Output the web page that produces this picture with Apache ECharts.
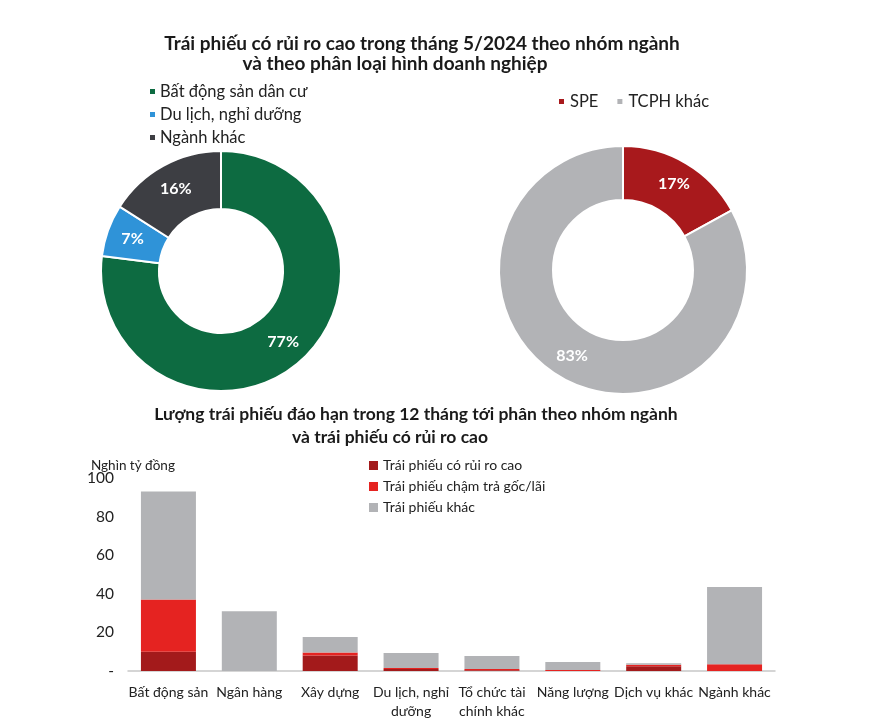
<!DOCTYPE html>
<html><head><meta charset="utf-8">
<script src="https://cdn.jsdelivr.net/npm/echarts@6/dist/echarts.min.js"></script>
<style>html,body{margin:0;padding:0;background:#fff}#c{width:883px;height:725px}</style>
</head><body><div id="c"></div>
<script>
const FONT = 'Lato';
const sectorNames = ['Bất động sản dân cư', 'Du lịch, nghỉ dưỡng', 'Ngành khác'];
const sectorValues = [77, 7, 16];
const issuerNames = ['SPE', 'TCPH khác'];
const issuerValues = [17, 83];
const categories = ['Bất động sản', 'Ngân hàng', 'Xây dựng', 'Du lịch, nghỉ\ndưỡng', 'Tổ chức tài\nchính khác', 'Năng lượng', 'Dịch vụ khác', 'Ngành khác'];
const seriesNames = ['Trái phiếu có rủi ro cao', 'Trái phiếu chậm trả gốc/lãi', 'Trái phiếu khác'];
const highRisk = [10, 0, 8, 1, 0.4, 0, 2.5, 0];
const lateRepay = [27, 0, 1.6, 0.5, 0.6, 0.5, 0.7, 3.5];
const otherBonds = [56, 31, 8, 7.8, 6.8, 4.2, 0.8, 40];
const yTicks = [0, 20, 40, 60, 80, 100];

const chart = echarts.init(document.getElementById('c'));
const titleStyle = fs => ({fontFamily: FONT, fontSize: fs, fontWeight: 'bold', color: '#1a1a1a'});
chart.setOption({
  backgroundColor: '#fff',
  textStyle: {fontFamily: FONT},
  title: [
    {text: 'Trái phiếu có rủi ro cao trong tháng 5/2024 theo nhóm ngành', left: 417, top: 29, textAlign: 'center', textStyle: titleStyle(19)},
    {text: 'và theo phân loại hình doanh nghiệp', left: 390, top: 49, textAlign: 'center', textStyle: titleStyle(19)},
    {text: 'Lượng trái phiếu đáo hạn trong 12 tháng tới phân theo nhóm ngành', left: 411, top: 400, textAlign: 'center', textStyle: titleStyle(17.5)},
    {text: 'và trái phiếu có rủi ro cao', left: 385, top: 423, textAlign: 'center', textStyle: titleStyle(17.5)},
    {text: 'Nghìn tỷ đồng', left: 86, top: 454,
     textStyle: {fontFamily: FONT, fontSize: 13.5, fontWeight: 'normal', color: '#222'}}
  ],
  legend: [
    {data: sectorNames, orient: 'vertical', left: 143, top: 78, itemGap: 6,
     icon: 'rect', itemWidth: 7, itemHeight: 7,
     textStyle: {fontFamily: FONT, fontSize: 16.5, lineHeight: 16, color: '#222', padding: [0, 0, 0, -1]}},
    {data: issuerNames, orient: 'horizontal', left: 552, top: 88, itemGap: 17,
     icon: 'rect', itemWidth: 7, itemHeight: 7,
     textStyle: {fontFamily: FONT, fontSize: 16.5, color: '#222'}},
    {data: seriesNames, orient: 'vertical', left: 364, top: 453, itemGap: 6,
     icon: 'rect', itemWidth: 9, itemHeight: 9,
     textStyle: {fontFamily: FONT, fontSize: 14, lineHeight: 15, color: '#222'}}
  ],
  grid: {left: 128, right: 108, top: 478, bottom: 54, containLabel: false},
  xAxis: {type: 'category', data: categories,
    axisLine: {show: true, lineStyle: {color: '#c8c8c8', width: 1.5}},
    axisTick: {show: false},
    axisLabel: {fontFamily: FONT, fontSize: 14, color: '#222', margin: 12, lineHeight: 19, interval: 0}},
  yAxis: {type: 'value', min: 0, max: 100, interval: 20,
    axisLine: {show: false}, axisTick: {show: false}, splitLine: {show: false},
    axisLabel: {fontFamily: FONT, fontSize: 15.5, color: '#222', margin: 14,
      formatter: v => (yTicks.indexOf(v) >= 0 ? (v === 0 ? '-' : String(v)) : '')}},
  series: [
    {type: 'pie', name: 'sector', center: [221, 271], radius: [62, 120], startAngle: 90, clockwise: true,
     itemStyle: {borderColor: '#fff', borderWidth: 2},
     color: ['#0d6b41', '#2f93d8', '#3d3e43'],
     label: {position: 'inside', formatter: p => p.value + '%', color: '#fff', fontSize: 16, fontWeight: 'bold', fontFamily: FONT},
     labelLine: {show: false},
     data: sectorNames.map((n, i) => ({name: n, value: sectorValues[i]}))},
    {type: 'pie', name: 'issuer', center: [623, 270], radius: [70, 124], startAngle: 90, clockwise: true,
     itemStyle: {borderColor: '#fff', borderWidth: 2},
     color: ['#a8191c', '#b2b3b6'],
     label: {position: 'inside', formatter: p => p.value + '%', color: '#fff', fontSize: 16, fontWeight: 'bold', fontFamily: FONT},
     labelLine: {show: false},
     data: issuerNames.map((n, i) => ({name: n, value: issuerValues[i]}))},
    {type: 'bar', name: seriesNames[0], stack: 's', data: highRisk, barWidth: '68%', itemStyle: {color: '#a31a1b'}},
    {type: 'bar', name: seriesNames[1], stack: 's', data: lateRepay, barWidth: '68%', itemStyle: {color: '#e52321'}},
    {type: 'bar', name: seriesNames[2], stack: 's', data: otherBonds, barWidth: '68%', itemStyle: {color: '#b2b3b6'}}
  ]
});
</script></body></html>
